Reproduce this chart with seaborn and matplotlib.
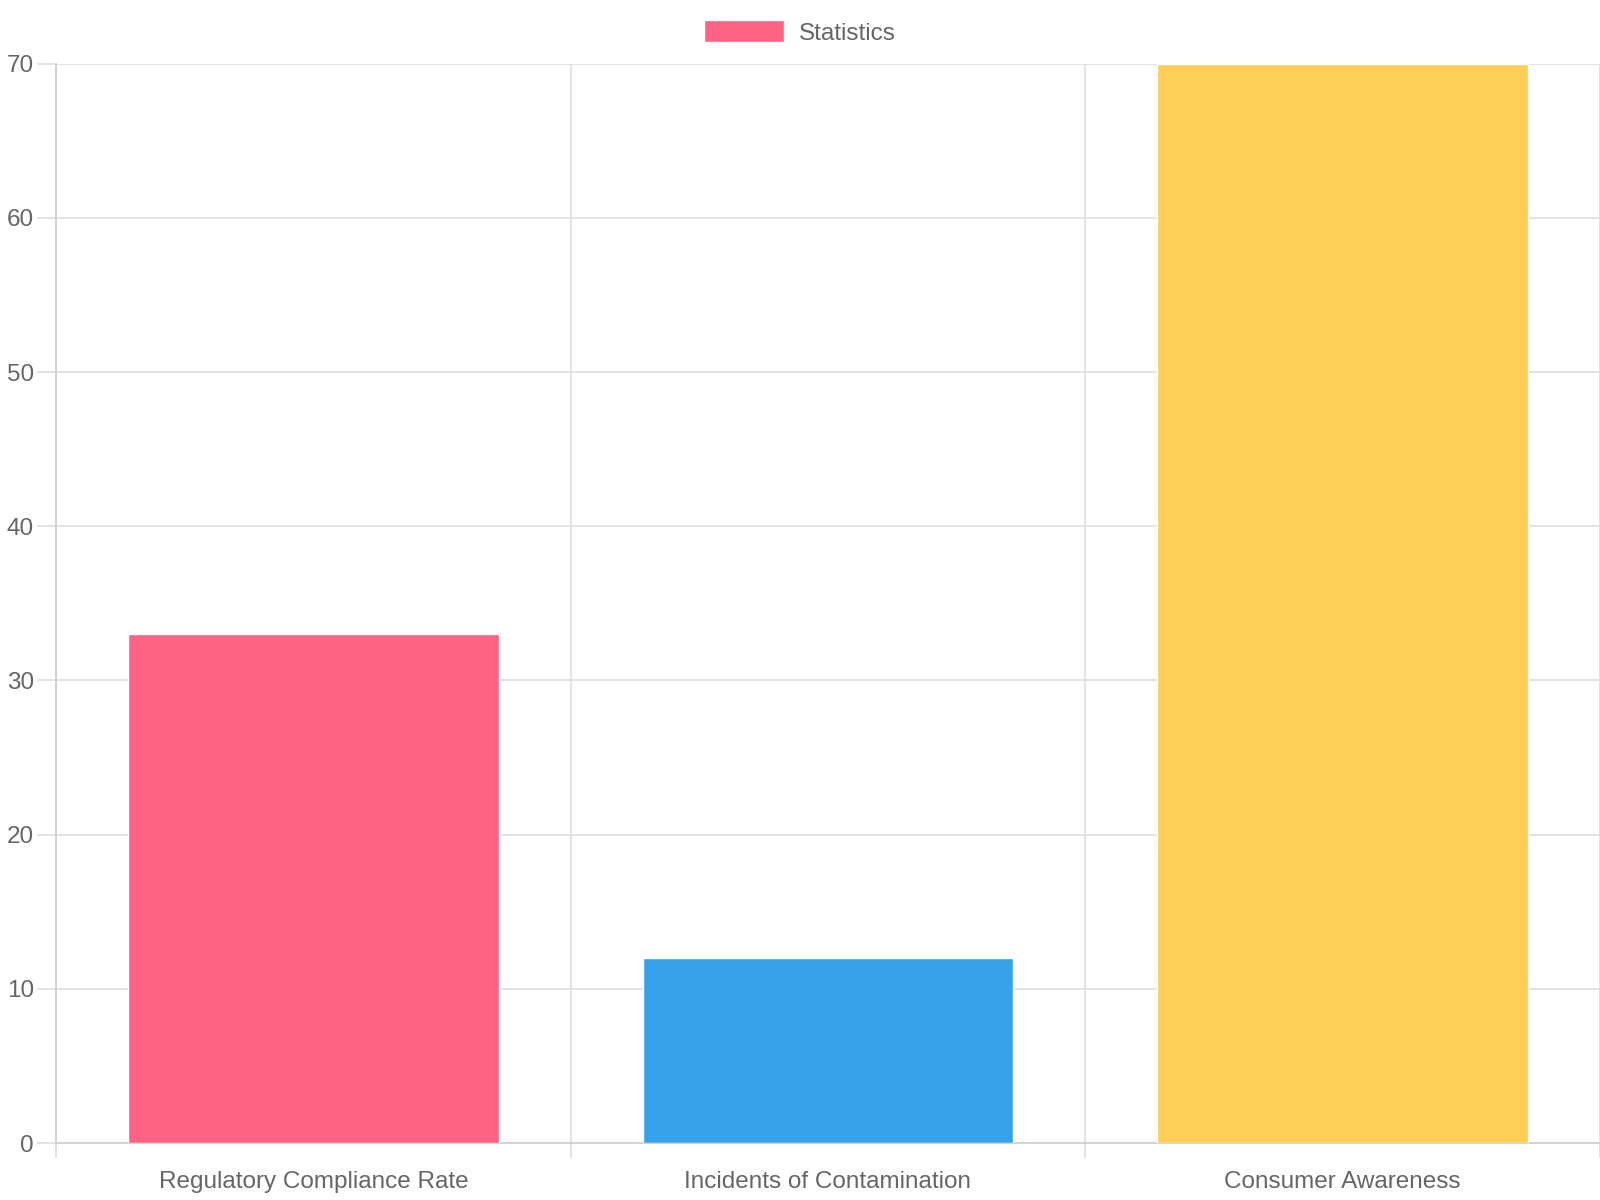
import seaborn as sns
import pandas as pd
import matplotlib.pyplot as plt
from matplotlib.patches import Patch

categorias = ['Regulatory Compliance Rate', 'Incidents of Contamination', 'Consumer Awareness']
valores = [33, 12, 70]
cores = ['#FF6384', '#36A2EB', '#FFCE56']
ticksY = [0, 10, 20, 30, 40, 50, 60, 70]

sns.set_style('white')
plt.rcParams['font.family'] = ['Liberation Sans', 'DejaVu Sans']
plt.rcParams['xtick.bottom'] = True
plt.rcParams['ytick.left'] = True

base = pd.DataFrame({'categoria': categorias, 'valor': valores})

fig = plt.figure(figsize=(16, 12), dpi=100)
ax = fig.add_axes([0.035, 0.0475, 0.965, 0.8995])

sns.barplot(x='categoria', y='valor', data=base, hue='categoria', palette=cores,
            legend=False, width=0.72, saturation=1, ax=ax, zorder=3)

ax.set_ylim(0, 70)
ax.set_xlim(-0.5, len(categorias) - 0.5)
ax.set_yticks(ticksY)
ax.set_xticks([i - 0.5 for i in range(len(categorias) + 1)], minor=True)
ax.set_xticks(range(len(categorias)))
ax.set_xticklabels(categorias)

ax.grid(axis='y', color='#e1e1e1', linewidth=1.3, zorder=0)
ax.grid(axis='x', which='minor', color='#e1e1e1', linewidth=1.3, zorder=0)
ax.grid(axis='x', which='major', visible=False)

ax.tick_params(axis='y', left=True, length=14, width=1.3, color='#e1e1e1', labelcolor='#666666', labelsize=17.5, pad=2)
ax.tick_params(axis='x', which='major', bottom=False, length=0, labelcolor='#666666', labelsize=17.5, pad=20)
ax.tick_params(axis='x', which='minor', bottom=True, length=11, width=1.3, color='#e1e1e1')

for lado in ['top', 'right']:
    ax.spines[lado].set_visible(False)
ax.spines['left'].set_color('#d0d0d0')
ax.spines['bottom'].set_color('#d0d0d0')
ax.spines['left'].set_linewidth(1.3)
ax.spines['bottom'].set_linewidth(1.3)
ax.set_xlabel('')
ax.set_ylabel('')

fig.legend(handles=[Patch(facecolor=cores[0], label='Statistics')], loc='center',
           bbox_to_anchor=(0.5, 0.973), frameon=False, fontsize=17.5, labelcolor='#666666',
           handlelength=3.3, handleheight=1.0, handletextpad=0.6)

plt.savefig('out.png')
